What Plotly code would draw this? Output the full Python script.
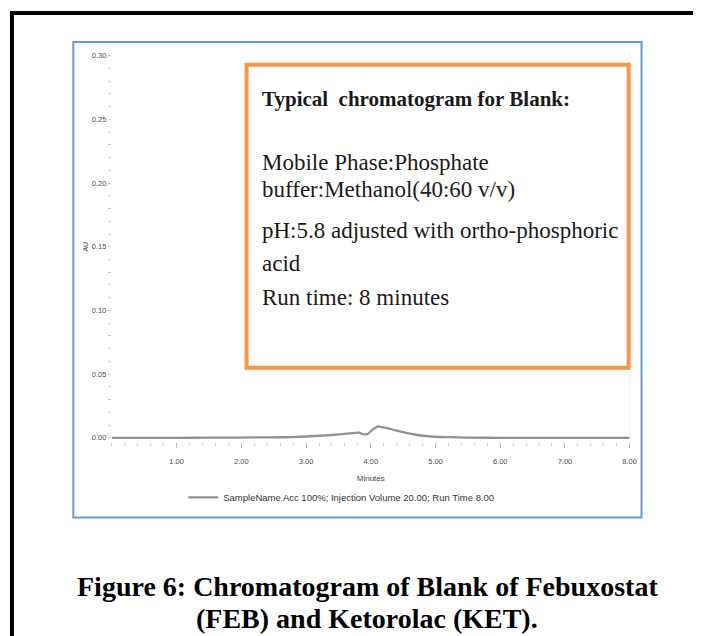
import plotly.graph_objects as go

# The page body has an 8px margin, so the figure is sized to fill the rest of the window
OFF = 8
W, H = 701 - OFF, 636 - OFF

# Data (minutes, AU)
time_min = [0.0, 0.5, 1.0, 1.5, 2.0, 2.5, 2.8, 3.0, 3.2, 3.4, 3.6, 3.75, 3.82, 3.88, 3.95,
            4.02, 4.1, 4.15, 4.25, 4.4, 4.55, 4.7, 4.85, 5.0, 5.2, 5.5, 6.0, 6.5, 7.0, 7.5, 8.0]
absorb_au = [0.0000, 0.0000, 0.0000, 0.0001, 0.0002, 0.0004, 0.0006, 0.0010, 0.0016, 0.0022,
             0.0030, 0.0038, 0.0040, 0.0028, 0.0030, 0.0060, 0.0088, 0.0086, 0.0076, 0.0056,
             0.0038, 0.0024, 0.0014, 0.0008, 0.0005, 0.0002, 0.0000, -0.0001, 0.0000, 0.0000, 0.0000]
x_ticks = [1, 2, 3, 4, 5, 6, 7, 8]
x_tick_labels = ["1.00", "2.00", "3.00", "4.00", "5.00", "6.00", "7.00", "8.00"]
y_ticks = [0.0, 0.05, 0.10, 0.15, 0.20, 0.25, 0.30]
y_tick_labels = ["0.00", "0.05", "0.10", "0.15", "0.20", "0.25", "0.30"]
legend_name = "SampleName Acc 100%; Injection Volume 20.00; Run Time 8.00"
box_title = "Typical  chromatogram for Blank:"
box_lines = ["Mobile Phase:Phosphate", "buffer:Methanol(40:60 v/v)",
             "pH:5.8 adjusted with ortho-phosphoric", "acid", "Run time: 8 minutes"]
caption_lines = ["Figure 6: Chromatogram of Blank of Febuxostat", "(FEB) and Ketorolac (KET)."]


def px(x):
    return (x - OFF) / W


def py(y):
    return 1 - (y - OFF) / H


fig = go.Figure()
fig.add_trace(go.Scatter(x=time_min, y=absorb_au, mode="lines", name=legend_name,
                         line=dict(color="#929292", width=2.3), line_shape="spline"))

tick_font = dict(family="Liberation Sans, Arial", size=7.5, color="#4a4a4a")

fig.update_layout(
    width=W, height=H,
    margin=dict(l=0, r=0, t=0, b=0),
    paper_bgcolor="white", plot_bgcolor="white",
    showlegend=True,
    legend=dict(x=px(185), y=py(498), xanchor="left", yanchor="middle",
                font=dict(family="Liberation Sans, Arial", size=9.5, color="#333333"),
                bgcolor="rgba(0,0,0,0)", itemwidth=30),
    xaxis=dict(domain=[px(113), px(636)], range=[0, 8], tickvals=x_ticks, ticktext=x_tick_labels,
               showgrid=False, zeroline=False, showline=False, ticks="outside", ticklen=5,
               tickcolor="#bbbbbb", tickfont=tick_font, ticklabelstandoff=7,
               minor=dict(dtick=0.2, ticks="outside", ticklen=3, tickcolor="#cccccc"),
               title=dict(text="Minutes", font=dict(family="Liberation Sans, Arial", size=8, color="#444444"),
                          standoff=10)),
    yaxis=dict(domain=[py(442), py(51)], range=[-0.003, 0.303], tickvals=y_ticks, ticktext=y_tick_labels,
               showgrid=False, zeroline=False, showline=False, ticks="outside", ticklen=3,
               tickcolor="#cccccc", tickfont=tick_font,
               minor=dict(dtick=0.01, ticks="outside", ticklen=3, tickcolor="#d0d0d0"),
               title=dict(text="AU", font=dict(family="Liberation Sans, Arial", size=7, color="#444444"), standoff=2)),
)

shapes = []
# right edge of plot frame
shapes.append(dict(type="line", xref="x", yref="y domain", x0=8, x1=8, y0=0, y1=1,
                   line=dict(color="#e2e2e2", width=1)))
# blue frame
shapes.append(dict(type="rect", xref="paper", yref="paper", x0=px(74), x1=px(648), y0=py(518), y1=py(41),
                   line=dict(color="#6a96d6", width=2), layer="above"))
# orange box
shapes.append(dict(type="rect", xref="paper", yref="paper", x0=px(249), x1=px(635), y0=py(368), y1=py(64),
                   line=dict(color="#f79646", width=4), fillcolor="white", layer="above"))
# black outer frame (top and left)
shapes.append(dict(type="line", xref="paper", yref="paper", x0=px(10), x1=1.02, y0=py(12), y1=py(12),
                   line=dict(color="black", width=4)))
shapes.append(dict(type="line", xref="paper", yref="paper", x0=px(12), x1=px(12), y0=py(10), y1=-0.02,
                   line=dict(color="black", width=4)))
fig.update_layout(shapes=shapes)

serif = "Liberation Serif, Times New Roman, serif"
ann = []
ann.append(dict(xref="paper", yref="paper", x=px(263), y=py(98), xanchor="left", yanchor="middle",
                text="<b>" + box_title + "</b>", showarrow=False,
                font=dict(family=serif, size=21, color="#1a1a1a")))
line_y = [162, 189, 230, 263, 297]
for t, yy in zip(box_lines, line_y):
    ann.append(dict(xref="paper", yref="paper", x=px(263), y=py(yy), xanchor="left", yanchor="middle",
                    text=t, showarrow=False, font=dict(family=serif, size=23, color="#1a1a1a")))
cap_y = [587, 619]
for t, yy in zip(caption_lines, cap_y):
    ann.append(dict(xref="paper", yref="paper", x=px(371), y=py(yy), xanchor="center", yanchor="middle",
                    text="<b>" + t + "</b>", showarrow=False, font=dict(family=serif, size=28, color="black")))
fig.update_layout(annotations=ann)

fig.write_html("out.html", config={"displayModeBar": False})
